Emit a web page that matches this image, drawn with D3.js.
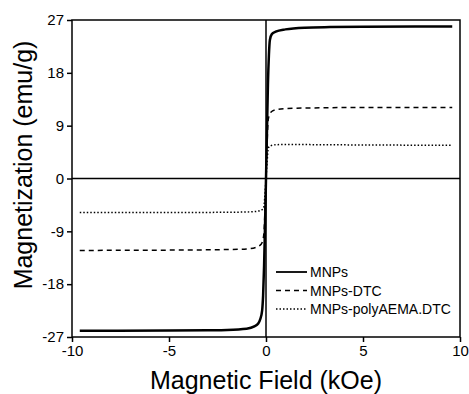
<!DOCTYPE html>
<html>
<head>
<meta charset="utf-8">
<script src="https://cdn.jsdelivr.net/npm/d3@7"></script>
<style>
  body { margin: 0; background: #fff; }
  text { font-family: "Liberation Sans", Arial, sans-serif; fill: #000; }
</style>
</head>
<body>
<div id="chart"></div>
<script>
const width = 469;
const height = 394;
const margin = { top: 20, right: 9, bottom: 57, left: 72 };

// tick labels
const xTicks = [-10, -5, 0, 5, 10];
const yTicks = [-27, -18, -9, 0, 9, 18, 27];

// series names
const seriesNames = ["MNPs", "MNPs-DTC", "MNPs-polyAEMA.DTC"];

// field (kOe) and magnetization (emu/g)
const fieldMNPs = [-9.6, -5, -3, -2, -1, -0.6, -0.4, -0.3, -0.2, -0.15, -0.1, -0.05, 0, 0.05, 0.1, 0.15, 0.2, 0.3, 0.5, 1, 2, 3.3, 5, 9.6];
const magMNPs   = [-25.95, -25.9, -25.85, -25.8, -25.6, -25.2, -24.7, -24.0, -22.5, -20, -15, -8, 0, 8, 16, 21, 23.6, 24.6, 25.0, 25.4, 25.7, 25.8, 25.85, 25.9];

const fieldDTC = [-9.6, -5, -2, -1, -0.5, -0.25, -0.15, -0.1, -0.05, 0, 0.05, 0.1, 0.15, 0.25, 0.5, 1, 2, 5, 9.6];
const magDTC   = [-12.25, -12.2, -12.1, -12.0, -11.7, -11.2, -10.3, -9, -5, 0, 5, 9.5, 10.6, 11.3, 11.7, 11.9, 12.0, 12.1, 12.1];

const fieldPoly = [-9.6, -5, -2, -1, -0.5, -0.25, -0.12, -0.06, 0, 0.06, 0.12, 0.25, 0.5, 1, 3, 6, 9.6];
const magPoly   = [-5.8, -5.8, -5.75, -5.7, -5.6, -5.4, -5.0, -3, 0, 3, 5.2, 5.6, 5.75, 5.8, 5.75, 5.7, 5.65];

const svg = d3.select("#chart").append("svg")
  .attr("width", width)
  .attr("height", height);

const x = d3.scaleLinear().domain([-10, 10]).range([margin.left, width - margin.right]);
const y = d3.scaleLinear().domain([-27, 27]).range([height - margin.bottom, margin.top]);

// frame
svg.append("rect")
  .attr("x", x(-10)).attr("y", y(27))
  .attr("width", x(10) - x(-10)).attr("height", y(-27) - y(27))
  .attr("fill", "none").attr("stroke", "#000").attr("stroke-width", 1.5);

// zero lines
svg.append("line")
  .attr("x1", x(-10)).attr("x2", x(10)).attr("y1", y(0)).attr("y2", y(0))
  .attr("stroke", "#000").attr("stroke-width", 1.5);
svg.append("line")
  .attr("x1", x(0)).attr("x2", x(0)).attr("y1", y(27)).attr("y2", y(-27))
  .attr("stroke", "#000").attr("stroke-width", 1.5);

// axes (plain hyphen minus, like the original)
const fmt = d => String(d);
const xAxis = svg.append("g")
  .attr("transform", `translate(0,${y(-27)})`)
  .call(d3.axisBottom(x).tickValues(xTicks).tickFormat(fmt).tickSize(5).tickPadding(3));
const yAxis = svg.append("g")
  .attr("transform", `translate(${x(-10)},0)`)
  .call(d3.axisLeft(y).tickValues(yTicks).tickFormat(fmt).tickSize(5).tickPadding(3));

[xAxis, yAxis].forEach(g => {
  g.select(".domain").remove();
  g.selectAll(".tick line").attr("stroke", "#000").attr("stroke-width", 1.5);
  g.selectAll(".tick text").style("font-size", "15px").attr("fill", "#000");
});

// axis titles
svg.append("text")
  .attr("x", x(0)).attr("y", 389)
  .attr("text-anchor", "middle")
  .style("font-size", "25px")
  .text("Magnetic Field (kOe)");

svg.append("text")
  .attr("transform", "translate(32,165) rotate(-90)")
  .attr("text-anchor", "middle")
  .style("font-size", "25px")
  .text("Magnetization (emu/g)");

// curves
const line = d3.line().x(d => x(d[0])).y(d => y(d[1])).curve(d3.curveMonotoneX);

const series = [
  { name: seriesNames[0], pts: d3.zip(fieldMNPs, magMNPs), dash: null, sw: 2.5 },
  { name: seriesNames[1], pts: d3.zip(fieldDTC, magDTC), dash: "5,4", sw: 1.5 },
  { name: seriesNames[2], pts: d3.zip(fieldPoly, magPoly), dash: "1.5,2", sw: 1.5 }
];

svg.selectAll("path.curve")
  .data(series)
  .enter()
  .append("path")
  .attr("class", "curve")
  .attr("d", d => line(d.pts))
  .attr("fill", "none")
  .attr("stroke", "#000")
  .attr("stroke-width", d => d.sw)
  .attr("stroke-dasharray", d => d.dash);

// legend
const legend = svg.append("g").attr("transform", "translate(276,272)");
series.forEach((s, i) => {
  const row = legend.append("g").attr("transform", `translate(0,${i * 18.5})`);
  row.append("line")
    .attr("x1", 0).attr("x2", 31).attr("y1", 0).attr("y2", 0)
    .attr("stroke", "#000")
    .attr("stroke-width", i === 0 ? 1.8 : 1.5)
    .attr("stroke-dasharray", s.dash);
  row.append("text")
    .attr("x", 34).attr("y", 5)
    .style("font-size", "14px")
    .text(s.name);
});
</script>
</body>
</html>
